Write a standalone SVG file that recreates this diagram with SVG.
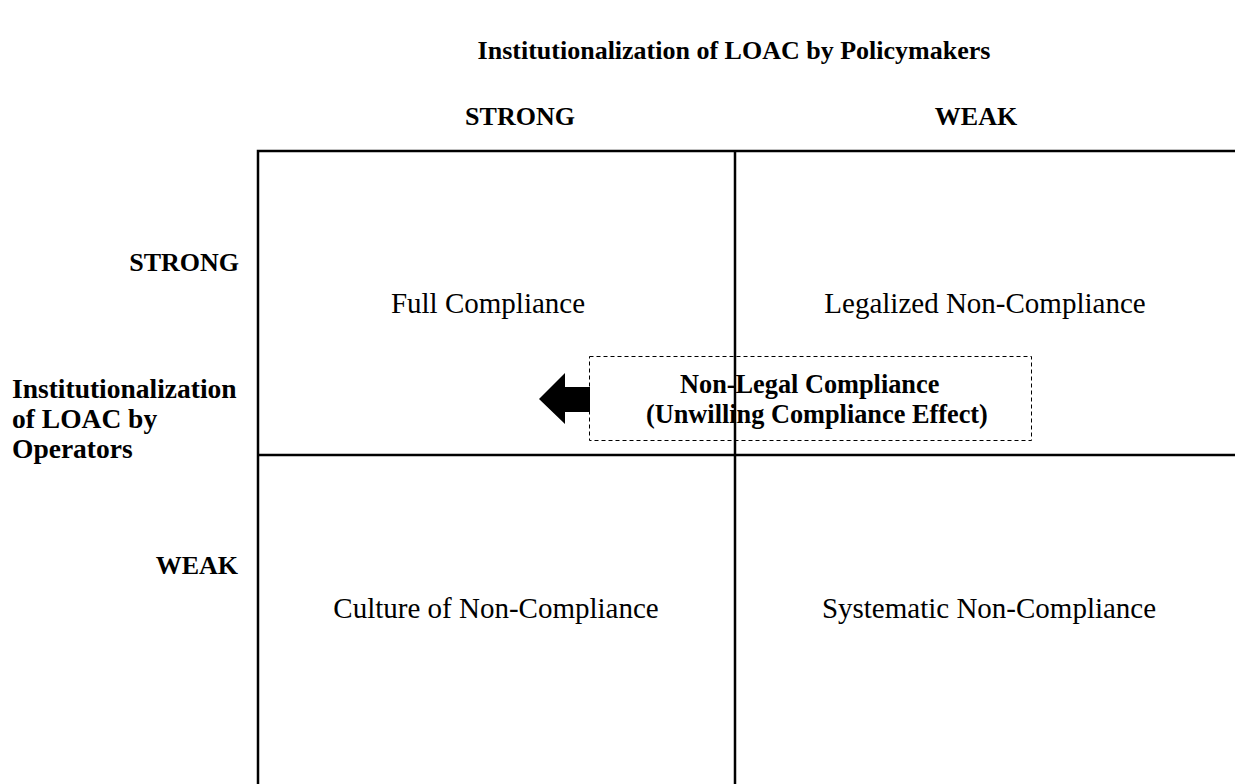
<svg xmlns="http://www.w3.org/2000/svg" width="1235" height="784" viewBox="0 0 1235 784">
  <style>
    text { font-family: "Liberation Serif", "Times New Roman", serif; fill: #000; }
    .hd { font-weight: bold; font-size: 26px; }
    .side { font-weight: bold; font-size: 27.5px; }
    .cell { font-size: 29px; }
    .note { font-weight: bold; font-size: 26.3px; }
    .grid { stroke: #000; stroke-width: 2.5; fill: none; }
  </style>
  <rect width="1235" height="784" fill="#fff"/>

  <!-- axis headings -->
  <g id="axis-top">
    <text class="hd" x="734" y="59" text-anchor="middle">Institutionalization of LOAC by Policymakers</text>
    <text class="hd" x="520" y="125" text-anchor="middle">STRONG</text>
    <text class="hd" x="976" y="125" text-anchor="middle">WEAK</text>
  </g>
  <g id="axis-left">
    <text class="hd" x="239" y="271" text-anchor="end">STRONG</text>
    <text class="side" x="12" y="398">Institutionalization</text>
    <text class="side" x="12" y="428">of LOAC by</text>
    <text class="side" x="12" y="458">Operators</text>
    <text class="hd" x="238" y="574" text-anchor="end">WEAK</text>
  </g>

  <!-- quadrant grid -->
  <g id="grid">
    <path class="grid" d="M258 784 V151 H1235"/>
    <path class="grid" d="M735 151 V784"/>
    <path class="grid" d="M258 455 H1235"/>
  </g>

  <g id="full-compliance">
    <text class="cell" x="488" y="313" text-anchor="middle">Full Compliance</text>
  </g>
  <g id="legalized-non-compliance">
    <text class="cell" x="985" y="313" text-anchor="middle">Legalized Non-Compliance</text>
  </g>
  <g id="culture-of-non-compliance">
    <text class="cell" x="496" y="618" text-anchor="middle">Culture of Non-Compliance</text>
  </g>
  <g id="systematic-non-compliance">
    <text class="cell" x="989" y="618" text-anchor="middle">Systematic Non-Compliance</text>
  </g>

  <g id="non-legal-compliance">
    <rect x="589.5" y="356.5" width="442" height="84" fill="none" stroke="#000" stroke-width="1" stroke-dasharray="4 3"/>
    <text class="note" x="680" y="393">Non-Legal Compliance</text>
    <text class="note" x="646" y="423">(Unwilling Compliance Effect)</text>
  </g>

  <g id="connectors">
    <path d="M590 387 H565 V373 L539 399 L565 424 V412 H590 Z" fill="#000"/>
  </g>
</svg>
